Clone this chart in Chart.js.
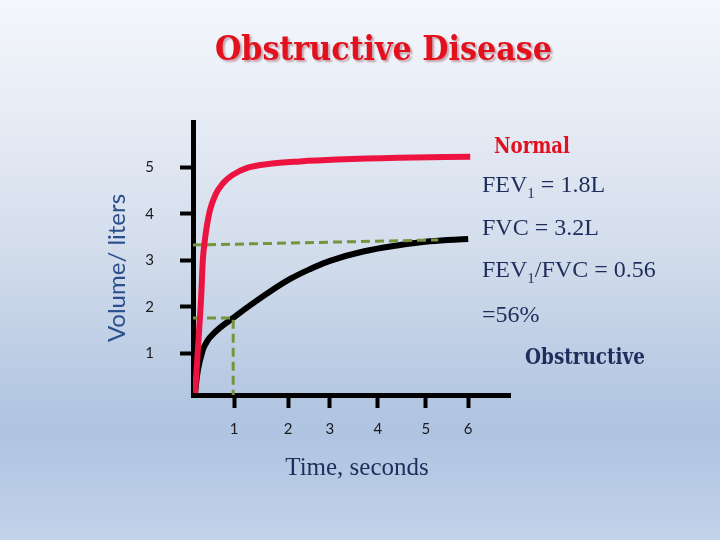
<!DOCTYPE html>
<html>
<head>
<meta charset="utf-8">
<script src="https://cdn.jsdelivr.net/npm/chart.js@4"></script>
<style>
  html, body { margin: 0; padding: 0; }
  #wrap {
    width: 720px; height: 540px; position: relative;
    background: linear-gradient(to bottom, #f4f7fc 0%, #e4eaf4 25%, #cfdaea 50%, #b8cae3 70%, #afc4e1 80%, #c2d2e9 100%);
  }
</style>
</head>
<body>
<div id="wrap"><canvas id="chart"></canvas></div>
<script>
// curve points (x in axis units, y in litres)
const normalT = [0.05, 0.1, 0.15, 0.2, 0.24, 0.29, 0.34, 0.42, 0.55, 0.73, 0.95, 1.32, 1.88, 2.61, 3.51, 5.0, 6.76];
const normalV = [0.14, 0.81, 1.5, 2.23, 3.01, 3.44, 3.75, 4.1, 4.42, 4.66, 4.83, 4.99, 5.08, 5.13, 5.17, 5.21, 5.23];

const obstrT = [0.05, 0.12, 0.24, 0.32, 0.41, 0.66, 0.98, 1.39, 1.88, 2.37, 2.85, 3.34, 4.15, 4.98, 5.78, 6.71];
const obstrV = [0.14, 0.64, 1.07, 1.22, 1.34, 1.55, 1.76, 2.03, 2.33, 2.6, 2.81, 2.99, 3.19, 3.32, 3.41, 3.46];

// green guide lines (FVC and FEV1)
const fvcT = [0, 5.98];
const fvcV = [3.33, 3.44];
const fev1T = [0, 0.98, 0.98];
const fev1V = [1.76, 1.76, 0.1];

// ticks
const xTickPos = [1, 2.32, 3.34, 4.51, 5.68, 6.71];
const xTickLabels = ['1', '2', '3', '4', '5', '6'];
const yTicks = [1, 2, 3, 4, 5];

const navy = '#1f2d5c';
const heavy = '"DejaVu Serif", serif';

function pts(xs, ys) {
    return xs.map((x, i) => ({x: x, y: ys[i]}));
}

// bold condensed text squeezed to the width it has in the slide
function fitText(ctx, text, x, y, width, size) {
    ctx.font = 'bold ' + size + 'px ' + heavy;
    ctx.fontStretch = 'condensed';
    const w = ctx.measureText(text).width;
    ctx.save();
    ctx.translate(x, y);
    ctx.scale(width / w, 1);
    ctx.fillText(text, 0, 0);
    ctx.restore();
}

const notes = {
    id: 'notes',
    afterDraw(chart) {
        const ctx = chart.ctx;
        ctx.save();
        ctx.textBaseline = 'middle';
        ctx.textAlign = 'left';

        // title with soft shadow
        ctx.save();
        ctx.shadowColor = 'rgba(140, 60, 70, 0.45)';
        ctx.shadowOffsetX = 2;
        ctx.shadowOffsetY = 2;
        ctx.shadowBlur = 2;
        ctx.fillStyle = '#e3111d';
        fitText(ctx, 'Obstructive Disease', 215, 51, 337, 34);
        ctx.restore();

        ctx.fillStyle = '#e0101e';
        fitText(ctx, 'Normal', 494, 147, 76, 23);

        ctx.fillStyle = navy;
        ctx.fontStretch = 'normal';
        const big = '24px "Liberation Serif", serif';
        const small = '15px "Liberation Serif", serif';
        function line(parts, x, y) {
            parts.forEach(p => {
                ctx.font = p.sub ? small : big;
                ctx.fillText(p.t, x, p.sub ? y + 8 : y);
                x += ctx.measureText(p.t).width;
            });
        }
        line([{t: 'FEV'}, {t: '1', sub: true}, {t: ' = 1.8L'}], 482, 186);
        line([{t: 'FVC = 3.2L'}], 482, 229);
        line([{t: 'FEV'}, {t: '1', sub: true}, {t: '/FVC = 0.56'}], 482, 271);
        line([{t: '=56%'}], 482, 316);

        fitText(ctx, 'Obstructive', 525, 358, 120, 23);

        ctx.fontStretch = 'normal';
        ctx.textAlign = 'center';
        ctx.font = '25px "Liberation Serif", serif';
        ctx.fillText('Time, seconds', 357, 468);

        ctx.save();
        ctx.translate(117, 268);
        ctx.rotate(-Math.PI / 2);
        ctx.fillStyle = '#2a4f8c';
        ctx.font = '24px Lato, "Open Sans", sans-serif';
        ctx.fillText('Volume/ liters', 0, 0);
        ctx.restore();

        ctx.restore();
    }
};

function renderChart() {
    const ctx = document.getElementById('chart').getContext('2d');
    const chart = new Chart(ctx, {
        type: 'line',
        data: {
            datasets: [
                {
                    label: 'Normal',
                    data: pts(normalT, normalV),
                    borderColor: '#ec1340',
                    borderWidth: 6,
                    pointRadius: 0,
                    cubicInterpolationMode: 'monotone',
                    order: 0
                },
                {
                    label: 'FVC',
                    data: pts(fvcT, fvcV),
                    borderColor: '#77933c',
                    borderWidth: 3,
                    borderDash: [9, 5],
                    pointRadius: 0,
                    order: 1
                },
                {
                    label: 'FEV1',
                    data: pts(fev1T, fev1V),
                    borderColor: '#77933c',
                    borderWidth: 3,
                    borderDash: [9, 5],
                    pointRadius: 0,
                    order: 1
                },
                {
                    label: 'Obstructive',
                    data: pts(obstrT, obstrV),
                    borderColor: '#000000',
                    borderWidth: 6,
                    pointRadius: 0,
                    tension: 0.4,
                    order: 2
                }
            ]
        },
        options: {
            responsive: true,
            maintainAspectRatio: false,
            animation: false,
            layout: { padding: { left: 0, right: 210, top: 122, bottom: 0 } },
            plugins: {
                legend: { display: false },
                tooltip: { enabled: false }
            },
            scales: {
                x: {
                    type: 'linear',
                    min: 0,
                    max: 7.73,
                    afterFit(scale) { scale.height = 145; },
                    afterBuildTicks(scale) { scale.ticks = xTickPos.map(v => ({value: v})); },
                    border: { display: true, color: '#000', width: 5 },
                    grid: { drawOnChartArea: false, drawTicks: true, tickLength: 13, tickWidth: 4, tickColor: '#000' },
                    ticks: {
                        autoSkip: false,
                        maxRotation: 0,
                        padding: 12,
                        color: '#1a1a1a',
                        font: { family: 'Lato, "Open Sans", sans-serif', size: 15 },
                        callback: (v, i) => xTickLabels[i]
                    }
                },
                y: {
                    type: 'linear',
                    min: 0.1,
                    max: 5.98,
                    afterFit(scale) { scale.width = 193; },
                    afterBuildTicks(scale) { scale.ticks = yTicks.map(v => ({value: v})); },
                    border: { display: true, color: '#000', width: 5 },
                    grid: { drawOnChartArea: false, drawTicks: true, tickLength: 13, tickWidth: 4, tickColor: '#000' },
                    ticks: {
                        padding: 26,
                        color: '#1a1a1a',
                        font: { family: 'Lato, "Open Sans", sans-serif', size: 15 }
                    }
                }
            }
        },
        plugins: [notes]
    });
}

renderChart();
</script>
</body>
</html>
